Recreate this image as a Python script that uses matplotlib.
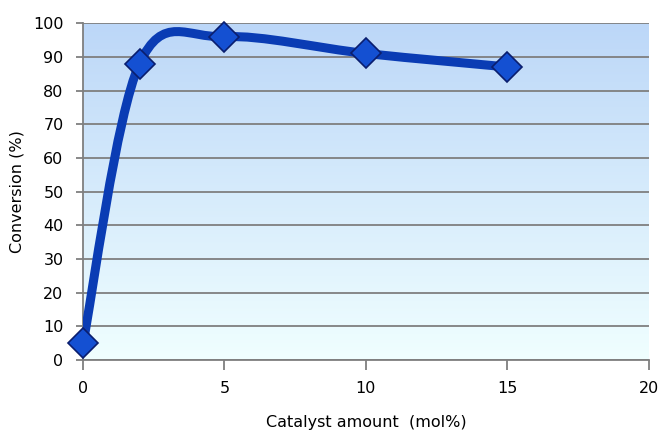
import numpy as np
import matplotlib.pyplot as plt
from matplotlib.path import Path
from matplotlib.patches import PathPatch
from matplotlib.colors import LinearSegmentedColormap

# data
catalyst = [0, 2, 5, 10, 15]
conversion = [5, 88, 96, 91, 87]
x_ticks = [0, 5, 10, 15, 20]
y_ticks = [0, 10, 20, 30, 40, 50, 60, 70, 80, 90, 100]

fig = plt.figure(figsize=(6.62, 4.37), dpi=100)
ax = fig.add_axes([0.1254, 0.176, 0.8546, 0.771])
ax.set_xlim(0, 20)
ax.set_ylim(0, 100)

# gradient background of the plot area
grad = LinearSegmentedColormap.from_list("bg", ["#f0ffff", "#bcd7f8"])
ax.imshow(np.linspace(0, 1, 256).reshape(-1, 1), cmap=grad, aspect="auto",
          extent=[0, 20, 0, 100], origin="lower", zorder=0)

ax.set_yticks(y_ticks)
ax.set_xticks(x_ticks)
ax.grid(axis="y", color="#7f7f7f", linewidth=1.3, zorder=1)

for s in ["top", "right"]:
    ax.spines[s].set_visible(False)
for s in ["left", "bottom"]:
    ax.spines[s].set_color("#7f7f7f")
    ax.spines[s].set_linewidth(1.3)
ax.tick_params(axis="y", length=5, width=1.3, color="#7f7f7f", labelsize=11.5, pad=9)
ax.tick_params(axis="x", length=7, width=1.3, color="#7f7f7f", labelsize=11.5, pad=8)

# smoothed line (Excel style cubic bezier through the points)
xs = np.array(catalyst, dtype=float)
ys = np.array(conversion, dtype=float)
verts = [(xs[0], ys[0])]
codes = [Path.MOVETO]
n = len(xs)
for i in range(n - 1):
    p0 = np.array([xs[max(i - 1, 0)], ys[max(i - 1, 0)]])
    p1 = np.array([xs[i], ys[i]])
    p2 = np.array([xs[i + 1], ys[i + 1]])
    p3 = np.array([xs[min(i + 2, n - 1)], ys[min(i + 2, n - 1)]])
    c1 = p1 + (p2 - p0) / 6
    c2 = p2 - (p3 - p1) / 6
    verts += [tuple(c1), tuple(c2), tuple(p2)]
    codes += [Path.CURVE4] * 3
ax.add_patch(PathPatch(Path(verts, codes), facecolor="none", edgecolor="#0a3cb4",
                       linewidth=6.5, capstyle="round", joinstyle="round", zorder=3))

ax.plot(catalyst, conversion, linestyle="none", marker="D", markersize=15,
        markerfacecolor="#1450d2", markeredgecolor="#0a1e6e", markeredgewidth=1.2,
        zorder=4, clip_on=False)

ax.set_xlabel("Catalyst amount  (mol%)", fontsize=11.5, labelpad=14)
ax.set_ylabel("Conversion (%)", fontsize=11.5, labelpad=6)

fig.savefig("out.png", dpi=100)
